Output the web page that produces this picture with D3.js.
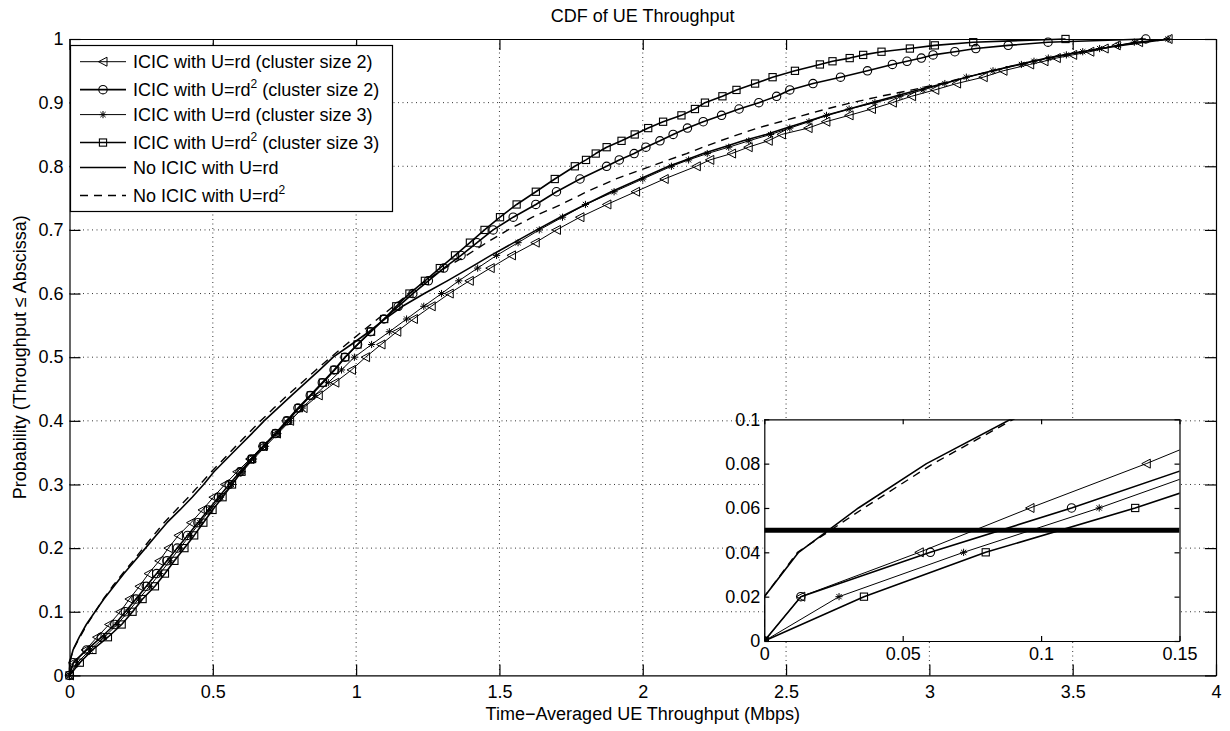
<!DOCTYPE html>
<html>
<head>
<meta charset="utf-8">
<script src="https://cdn.jsdelivr.net/npm/d3@7"></script>
<style>
  body { margin: 0; background: #fff; }
  #chart { width: 1230px; height: 731px; }
  text { font-family: "Liberation Sans", Arial, Helvetica, sans-serif; fill: #000; }
</style>
</head>
<body>
<div id="chart"></div>
<script>
// probability levels at which each curve has a vertex (marker)
const probLevels = [0, 0.02, 0.04, 0.06, 0.08, 0.10, 0.12, 0.14, 0.16, 0.18, 0.20, 0.22, 0.24, 0.26, 0.28, 0.30,
  0.32, 0.34, 0.36, 0.38, 0.40, 0.42, 0.44, 0.46, 0.48, 0.50, 0.52, 0.54, 0.56, 0.58, 0.60, 0.62, 0.64, 0.66,
  0.68, 0.70, 0.72, 0.74, 0.76, 0.78, 0.80,
  0.81, 0.82, 0.83, 0.84, 0.85, 0.86, 0.87, 0.88, 0.89, 0.90, 0.91, 0.92, 0.93, 0.94, 0.95, 0.96,
  0.965, 0.97, 0.975, 0.98, 0.985, 0.99, 0.995, 1.0];

// throughput (Mbps) per curve at each probability level
const icicRdC2 = [0, 0.0132, 0.056, 0.096, 0.138, 0.177, 0.209, 0.244, 0.276, 0.313, 0.345, 0.380, 0.424, 0.464, 0.502, 0.542,
  0.585, 0.630, 0.675, 0.722, 0.768, 0.815, 0.868, 0.926, 0.984, 1.033, 1.087, 1.142, 1.200, 1.262, 1.325, 1.395, 1.468, 1.542,
  1.625, 1.699, 1.781, 1.875, 1.975, 2.075, 2.187,
  2.234, 2.310, 2.368, 2.438, 2.484, 2.577, 2.639, 2.720, 2.798, 2.871, 2.938, 3.019, 3.095, 3.188, 3.257, 3.350,
  3.400, 3.443, 3.500, 3.560, 3.610, 3.652, 3.730, 3.833];
const icicRd2C2 = [0, 0.0132, 0.060, 0.111, 0.158, 0.195, 0.232, 0.268, 0.304, 0.340, 0.376, 0.412, 0.448, 0.484, 0.520, 0.557,
  0.595, 0.634, 0.675, 0.718, 0.758, 0.797, 0.840, 0.882, 0.923, 0.961, 1.005, 1.050, 1.097, 1.147, 1.198, 1.252, 1.306, 1.366,
  1.422, 1.478, 1.548, 1.627, 1.699, 1.781, 1.874,
  1.918, 1.970, 2.011, 2.060, 2.106, 2.156, 2.211, 2.275, 2.336, 2.405, 2.467, 2.513, 2.594, 2.690, 2.784, 2.871,
  2.922, 2.972, 3.013, 3.089, 3.162, 3.275, 3.414, 3.755];
const icicRdC3 = [0, 0.027, 0.072, 0.121, 0.166, 0.205, 0.241, 0.280, 0.315, 0.350, 0.385, 0.420, 0.455, 0.490, 0.527, 0.565,
  0.603, 0.642, 0.684, 0.727, 0.770, 0.812, 0.856, 0.903, 0.949, 0.994, 1.054, 1.116, 1.176, 1.236, 1.298, 1.358, 1.424, 1.490,
  1.565, 1.639, 1.720, 1.800, 1.900, 2.000, 2.100,
  2.160, 2.225, 2.300, 2.370, 2.446, 2.513, 2.580, 2.641, 2.720, 2.810, 2.897, 2.978, 3.054, 3.129, 3.222, 3.321,
  3.365, 3.415, 3.478, 3.535, 3.594, 3.660, 3.715, 3.833];
const icicRd2C3 = [0, 0.036, 0.080, 0.134, 0.182, 0.220, 0.255, 0.298, 0.333, 0.366, 0.401, 0.435, 0.467, 0.499, 0.534, 0.567,
  0.600, 0.637, 0.678, 0.721, 0.761, 0.800, 0.842, 0.884, 0.925, 0.962, 1.005, 1.052, 1.098, 1.140, 1.186, 1.240, 1.292, 1.345,
  1.397, 1.448, 1.502, 1.560, 1.627, 1.693, 1.763,
  1.802, 1.836, 1.874, 1.926, 1.972, 2.019, 2.071, 2.135, 2.182, 2.217, 2.278, 2.327, 2.392, 2.453, 2.531, 2.618,
  2.662, 2.722, 2.769, 2.833, 2.932, 3.019, 3.153, 3.475];
const noIcicRd = [0, 0, 0.0124, 0.034, 0.0586, 0.089, 0.120, 0.155, 0.190, 0.228, 0.265, 0.302, 0.340, 0.385, 0.428, 0.468,
  0.504, 0.548, 0.592, 0.636, 0.679, 0.727, 0.775, 0.824, 0.873, 0.920, 0.983, 1.045, 1.100, 1.162, 1.238, 1.318, 1.395, 1.470,
  1.550, 1.630, 1.712, 1.800, 1.890, 1.990, 2.090,
  2.150, 2.210, 2.280, 2.350, 2.430, 2.500, 2.570, 2.640, 2.720, 2.800, 2.880, 2.960, 3.050, 3.130, 3.220, 3.310,
  3.360, 3.410, 3.470, 3.530, 3.600, 3.670, 3.750, 3.840];
const noIcicRd2 = [0, 0, 0.012, 0.036, 0.061, 0.090, 0.118, 0.150, 0.185, 0.222, 0.257, 0.293, 0.330, 0.372, 0.415, 0.455,
  0.495, 0.538, 0.580, 0.623, 0.667, 0.713, 0.760, 0.810, 0.860, 0.912, 0.965, 1.020, 1.075, 1.130, 1.185, 1.242, 1.310, 1.385,
  1.455, 1.530, 1.615, 1.715, 1.805, 1.905, 2.027,
  2.090, 2.153, 2.210, 2.270, 2.335, 2.400, 2.480, 2.560, 2.640, 2.730, 2.830, 2.940, 3.040, 3.130, 3.220, 3.310,
  3.360, 3.415, 3.475, 3.535, 3.600, 3.665, 3.745, 3.840];

const legendLabels = [
  ["ICIC with U=rd", "", " (cluster size 2)"],
  ["ICIC with U=rd", "2", " (cluster size 2)"],
  ["ICIC with U=rd", "", " (cluster size 3)"],
  ["ICIC with U=rd", "2", " (cluster size 3)"],
  ["No ICIC with U=rd", "", ""],
  ["No ICIC with U=rd", "2", ""]
];

const xTicks = [0, 0.5, 1, 1.5, 2, 2.5, 3, 3.5, 4];
const yTicks = [0, 0.1, 0.2, 0.3, 0.4, 0.5, 0.6, 0.7, 0.8, 0.9, 1];
const insetXTicks = [0, 0.05, 0.1, 0.15];
const insetYTicks = [0, 0.02, 0.04, 0.06, 0.08, 0.1];
const outageLevel = 0.05;

class CdfVis {
  constructor(parentElement) {
    this.parentElement = parentElement;
    this.initVis();
  }

  initVis() {
    let vis = this;

    vis.margin = { top: 39, left: 69.5 };
    vis.width = 1146.5;
    vis.height = 636.4;

    vis.root = d3.select(`#${vis.parentElement}`)
      .append("svg")
      .attr("width", 1230)
      .attr("height", 731);

    vis.root.append("rect").attr("width", 1230).attr("height", 731).attr("fill", "#fff");

    vis.svg = vis.root.append("g")
      .attr("transform", `translate(${vis.margin.left},${vis.margin.top})`);

    vis.xScale = d3.scaleLinear().domain([0, 4]).range([0, vis.width]);
    vis.yScale = d3.scaleLinear().domain([0, 1]).range([vis.height, 0]);

    // inset axes (zoom of the low tail)
    vis.inset = { left: 764.3, top: 419.3, width: 415.2, height: 221.7 };
    vis.ixScale = d3.scaleLinear().domain([0, 0.15]).range([0, vis.inset.width]);
    vis.iyScale = d3.scaleLinear().domain([0, 0.1]).range([vis.inset.height, 0]);

    vis.wrangleData();
  }

  wrangleData() {
    let vis = this;
    const styles = [
      { key: "tri", values: icicRdC2, width: 1, dash: null },
      { key: "circ", values: icicRd2C2, width: 1.6, dash: null },
      { key: "star", values: icicRdC3, width: 1, dash: null },
      { key: "sq", values: icicRd2C3, width: 1.6, dash: null },
      { key: "none", values: noIcicRd, width: 1.6, dash: null },
      { key: "none", values: noIcicRd2, width: 1.4, dash: "8,6" }
    ];
    vis.displayData = styles.map((s, i) => ({
      key: s.key, width: s.width, dash: s.dash, label: legendLabels[i],
      points: s.values.map((v, j) => ({ x: v, p: probLevels[j] }))
    }));
    vis.updateVis();
  }

  drawMarker(g, key, cx, cy) {
    if (key === "tri") {
      g.append("path")
        .attr("d", `M${cx - 4.5},${cy} L${cx + 4},${cy - 4.5} L${cx + 4},${cy + 4.5} Z`)
        .attr("fill", "none").attr("stroke", "#000").attr("stroke-width", 1);
    } else if (key === "circ") {
      g.append("circle").attr("cx", cx).attr("cy", cy).attr("r", 4.2)
        .attr("fill", "none").attr("stroke", "#000").attr("stroke-width", 1.1);
    } else if (key === "sq") {
      g.append("rect").attr("x", cx - 3.6).attr("y", cy - 3.6).attr("width", 7.2).attr("height", 7.2)
        .attr("fill", "none").attr("stroke", "#000").attr("stroke-width", 1.1);
    } else if (key === "star") {
      const r = 3.6, d = 2.6;
      g.append("path")
        .attr("d", `M${cx - r},${cy}H${cx + r}M${cx},${cy - r}V${cy + r}M${cx - d},${cy - d}L${cx + d},${cy + d}M${cx - d},${cy + d}L${cx + d},${cy - d}`)
        .attr("stroke", "#000").attr("stroke-width", 1);
    }
  }

  drawSeries(g, xs, ys) {
    let vis = this;
    const line = d3.line().x(d => xs(d.x)).y(d => ys(d.p));
    vis.displayData.forEach(s => {
      g.append("path")
        .datum(s.points)
        .attr("d", line)
        .attr("fill", "none")
        .attr("stroke", "#000")
        .attr("stroke-width", s.width)
        .attr("stroke-dasharray", s.dash)
        .attr("stroke-linejoin", "round");
    });
    vis.displayData.forEach(s => {
      if (s.key === "none") return;
      const mg = g.append("g");
      s.points.forEach(d => vis.drawMarker(mg, s.key, xs(d.x), ys(d.p)));
    });
  }

  updateVis() {
    let vis = this;
    const W = vis.width, H = vis.height;

    // grid
    const grid = vis.svg.append("g").attr("class", "grid");
    grid.selectAll(".gx").data(xTicks.slice(1, -1)).enter().append("line")
      .attr("x1", d => vis.xScale(d)).attr("x2", d => vis.xScale(d))
      .attr("y1", 0).attr("y2", H)
      .attr("stroke", "#000").attr("stroke-width", 0.8).attr("stroke-dasharray", "1,3.5");
    grid.selectAll(".gy").data(yTicks.slice(1, -1)).enter().append("line")
      .attr("x1", 0).attr("x2", W)
      .attr("y1", d => vis.yScale(d)).attr("y2", d => vis.yScale(d))
      .attr("stroke", "#000").attr("stroke-width", 0.8).attr("stroke-dasharray", "1,3.5");

    // curves
    vis.drawSeries(vis.svg.append("g"), vis.xScale, vis.yScale);

    // axes
    const tl = 11;
    const xAxis = d3.axisBottom(vis.xScale).tickValues(xTicks).tickSizeInner(-tl).tickSizeOuter(0)
      .tickPadding(10).tickFormat(d => d);
    const xTop = d3.axisTop(vis.xScale).tickValues(xTicks).tickSizeInner(-tl).tickSizeOuter(0).tickFormat("");
    const yAxis = d3.axisLeft(vis.yScale).tickValues(yTicks).tickSizeInner(-tl).tickSizeOuter(0)
      .tickPadding(6).tickFormat(d => d);
    const yRight = d3.axisRight(vis.yScale).tickValues(yTicks).tickSizeInner(-tl).tickSizeOuter(0).tickFormat("");

    vis.svg.append("g").attr("class", "x-axis").attr("transform", `translate(0,${H})`).call(xAxis);
    vis.svg.append("g").attr("class", "x-top").call(xTop);
    vis.svg.append("g").attr("class", "y-axis").call(yAxis);
    vis.svg.append("g").attr("class", "y-right").attr("transform", `translate(${W},0)`).call(yRight);

    vis.svg.selectAll(".x-axis path, .x-axis line, .x-top path, .x-top line, .y-axis path, .y-axis line, .y-right path, .y-right line")
      .attr("stroke", "#000").attr("stroke-width", 1.2);
    vis.svg.selectAll(".x-axis text, .y-axis text")
      .attr("fill", "#000").attr("font-size", "18px")
      .attr("font-family", "'Liberation Sans', Arial, sans-serif");

    // labels
    vis.root.append("text")
      .attr("x", vis.margin.left + W / 2).attr("y", 21.5)
      .attr("text-anchor", "middle").attr("font-size", "18px")
      .text("CDF of UE Throughput");
    vis.root.append("text")
      .attr("x", vis.margin.left + W / 2).attr("y", 720)
      .attr("text-anchor", "middle").attr("font-size", "18px")
      .text("Time\u2212Averaged UE Throughput (Mbps)");
    vis.root.append("text")
      .attr("transform", `translate(26,${vis.margin.top + H / 2}) rotate(-90)`)
      .attr("text-anchor", "middle").attr("font-size", "18px")
      .text("Probability (Throughput \u2264 Abscissa)");

    vis.drawLegend();
    vis.drawInset();
  }

  drawLegend() {
    let vis = this;
    const lg = vis.root.append("g").attr("class", "legend");
    lg.append("rect").attr("x", 70.5).attr("y", 45.5).attr("width", 322).attr("height", 166)
      .attr("fill", "#fff").attr("stroke", "#000").attr("stroke-width", 1.2);

    vis.displayData.forEach((s, i) => {
      const sup = s.label[1] !== "";
      const cy = 61.7 + i * 26.45 + (sup ? 1.5 : 0);
      lg.append("line").attr("x1", 80).attr("x2", 126).attr("y1", cy).attr("y2", cy)
        .attr("stroke", "#000").attr("stroke-width", s.width).attr("stroke-dasharray", s.dash);
      if (s.key !== "none") vis.drawMarker(lg, s.key, 103, cy);
      const t = lg.append("text").attr("x", 133).attr("y", cy + 6.5).attr("font-size", "18px");
      t.append("tspan").text(s.label[0]);
      if (sup) {
        t.append("tspan").attr("font-size", "12px").attr("dy", -8).text(s.label[1]);
        t.append("tspan").attr("dy", 8).text(s.label[2]);
      } else if (s.label[2]) {
        t.append("tspan").text(s.label[2]);
      }
    });
  }

  drawInset() {
    let vis = this;
    const ins = vis.inset;
    const g = vis.root.append("g").attr("transform", `translate(${ins.left},${ins.top})`);

    g.append("rect").attr("x", -1).attr("y", -1).attr("width", ins.width + 2).attr("height", ins.height + 2)
      .attr("fill", "#fff");

    vis.root.append("clipPath").attr("id", "inset-clip")
      .append("rect").attr("width", ins.width).attr("height", ins.height);

    const cg = g.append("g").attr("clip-path", "url(#inset-clip)");
    vis.drawSeries(cg, vis.ixScale, vis.iyScale);

    cg.append("line")
      .attr("x1", 0).attr("x2", ins.width)
      .attr("y1", vis.iyScale(outageLevel)).attr("y2", vis.iyScale(outageLevel))
      .attr("stroke", "#000").attr("stroke-width", 5);

    const tl = 5;
    const xAxis = d3.axisBottom(vis.ixScale).tickValues(insetXTicks).tickSizeInner(-tl).tickSizeOuter(0)
      .tickPadding(6).tickFormat(d => d);
    const xTop = d3.axisTop(vis.ixScale).tickValues(insetXTicks).tickSizeInner(-tl).tickSizeOuter(0).tickFormat("");
    const yAxis = d3.axisLeft(vis.iyScale).tickValues(insetYTicks).tickSizeInner(-tl).tickSizeOuter(0)
      .tickPadding(4).tickFormat(d => d);
    const yRight = d3.axisRight(vis.iyScale).tickValues(insetYTicks).tickSizeInner(-tl).tickSizeOuter(0).tickFormat("");

    g.append("g").attr("class", "ix").attr("transform", `translate(0,${ins.height})`).call(xAxis);
    g.append("g").attr("class", "ixt").call(xTop);
    g.append("g").attr("class", "iy").call(yAxis);
    g.append("g").attr("class", "iyr").attr("transform", `translate(${ins.width},0)`).call(yRight);

    g.selectAll(".ix path, .ix line, .ixt path, .ixt line, .iy path, .iy line, .iyr path, .iyr line")
      .attr("stroke", "#000").attr("stroke-width", 1.2);
    g.selectAll(".ix text, .iy text")
      .attr("fill", "#000").attr("font-size", "18px")
      .attr("font-family", "'Liberation Sans', Arial, sans-serif");
  }
}

new CdfVis("chart");
</script>
</body>
</html>
